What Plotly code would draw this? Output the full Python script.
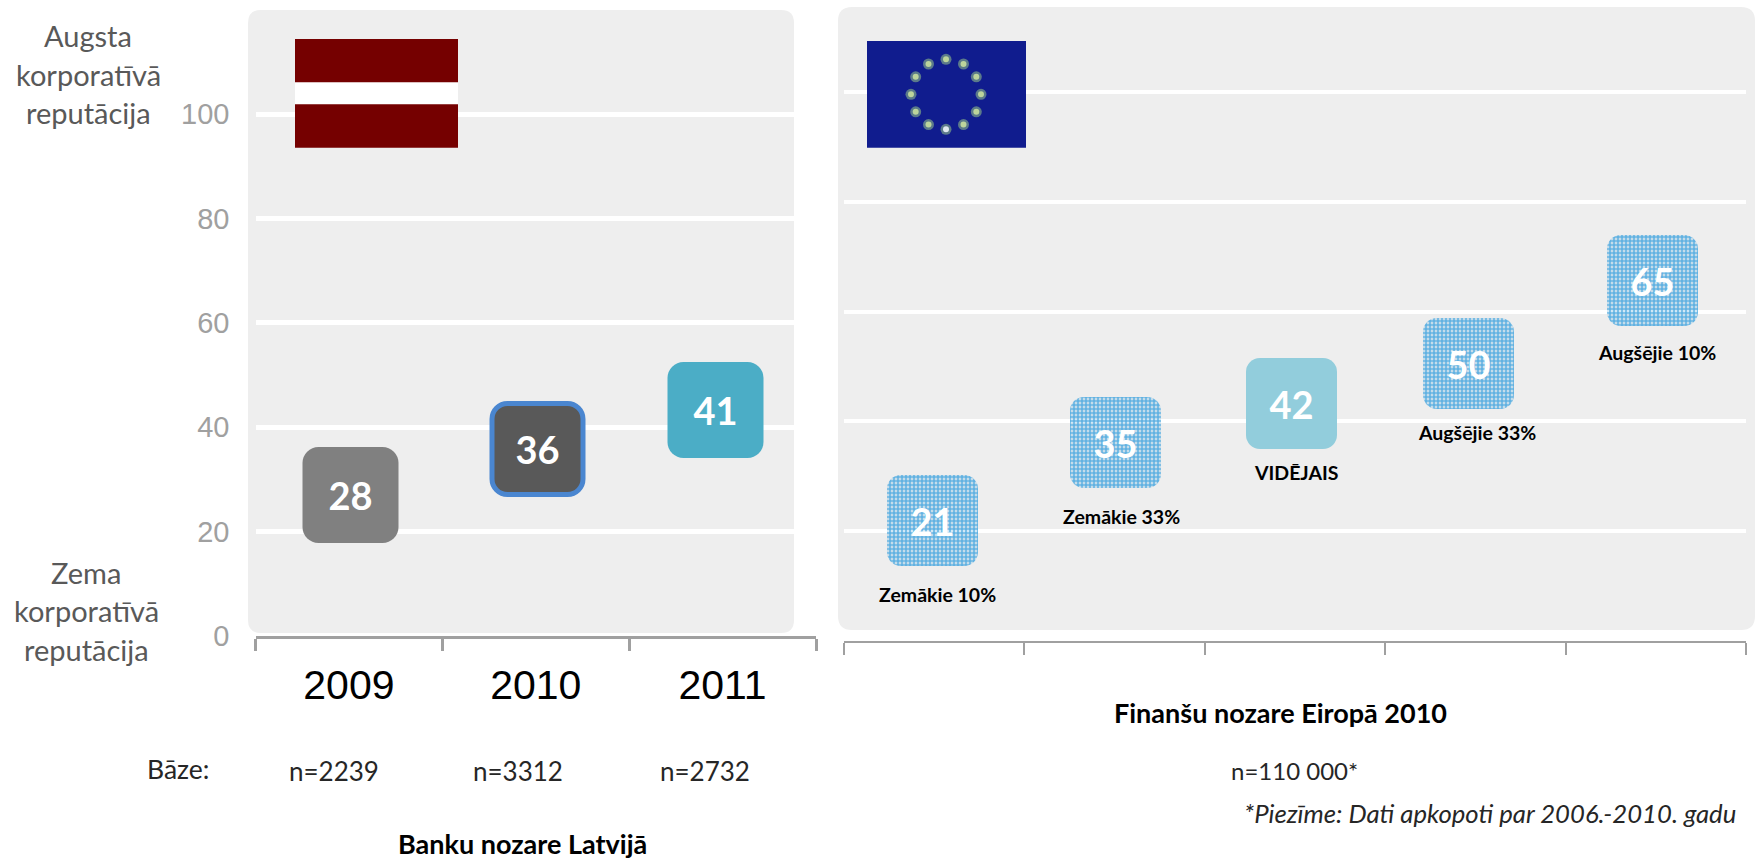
import math
import plotly.graph_objects as go

W, H = 1756, 860

# ---- data ----
latvia_years = ["2009", "2010", "2011"]
latvia_levels = [27.0, 35.8, 43.3]
latvia_labels = ["28", "36", "41"]
latvia_bases = ["n=2239", "n=3312", "n=2732"]

europe_groups = ["Zemākie 10%", "Zemākie 33%", "VIDĒJAIS", "Augšējie 33%", "Augšējie 10%"]
europe_levels = [22.0, 36.2, 43.2, 50.6, 65.7]
europe_labels = ["21", "35", "42", "50", "65"]

y_ticks = [0, 20, 40, 60, 80, 100]

# ---- layout helpers ----
def px(x):
    return x / W

def py(y):
    return 1 - y / H

FONT = "Lato"
GREY_TXT = "#595959"
PANEL = "#eeeeee"
AXIS = "#a0a0a0"
HATCH_BG = "#62b2e2"

# pixel frame of both plot areas
L = dict(x0=255.5, x1=816, y0=636, y1=10, per=5.22, cat=187.0, w=96, h=96)
R = dict(x0=844, x1=1746, y0=641, y1=7, per=5.49, cat=180.4, w=91, h=91)

def bar_trace(cats, levels, labels, frame, colors, axis, line_colors=None, line_w=None,
              nudges=None, pattern=None, size=38, radius=15):
    line_w = line_w or [0] * len(cats)
    hgts = [(frame["h"] - lw) / frame["per"] for lw in line_w]
    wids = [(frame["w"] - lw) / frame["cat"] for lw in line_w]
    nudges = nudges or [0] * len(cats)
    marker = dict(color=colors, cornerradius=radius,
                  line=dict(color=line_colors or colors, width=line_w))
    if pattern:
        marker["pattern"] = pattern
    return go.Bar(
        x=cats, y=hgts, base=[v - h / 2 for v, h in zip(levels, hgts)],
        width=wids, offset=[-w / 2 + n / frame["cat"] for w, n in zip(wids, nudges)],
        marker=marker, text=labels, textposition="inside", insidetextanchor="middle",
        textangle=0, constraintext="none",
        textfont=dict(family=FONT, size=size, color="white", weight="bold"),
        xaxis="x" + axis, yaxis="y" + axis, showlegend=False, hoverinfo="skip",
    )

fig = go.Figure()
fig.add_trace(bar_trace(latvia_years, latvia_levels, latvia_labels, L,
                        ["#808080", "#595959", "#4badc6"], "",
                        line_colors=["#808080", "#4a86d0", "#4badc6"], line_w=[0, 5, 0],
                        nudges=[2, 2, -7], radius=16))
fig.add_trace(bar_trace(europe_groups, europe_levels, europe_labels, R,
                        [HATCH_BG, HATCH_BG, "#92cddc", HATCH_BG, HATCH_BG], "2",
                        nudges=[-1.5, 0.5, -3.5, -7, -3], radius=14,
                        pattern=dict(shape=[".", ".", "", ".", "."], fgcolor="#d8ecf8",
                                     bgcolor=[HATCH_BG, HATCH_BG, "#92cddc", HATCH_BG, HATCH_BG],
                                     size=4, solidity=0.75, fillmode="replace")))

def rounded(x0, y0, x1, y1, r):
    return (f"M{px(x0+r)},{py(y0)} L{px(x1-r)},{py(y0)} Q{px(x1)},{py(y0)} {px(x1)},{py(y0+r)} "
            f"L{px(x1)},{py(y1-r)} Q{px(x1)},{py(y1)} {px(x1-r)},{py(y1)} "
            f"L{px(x0+r)},{py(y1)} Q{px(x0)},{py(y1)} {px(x0)},{py(y1-r)} "
            f"L{px(x0)},{py(y0+r)} Q{px(x0)},{py(y0)} {px(x0+r)},{py(y0)} Z")

shapes = []
for box in [(248, 10, 794, 633, 13), (838, 7, 1755, 630, 14)]:
    shapes.append(dict(type="path", path=rounded(*box), xref="paper", yref="paper",
                       fillcolor=PANEL, line_width=0, layer="below"))

def rect(x0, y0, x1, y1, color):
    shapes.append(dict(type="rect", xref="paper", yref="paper", x0=px(x0), x1=px(x1),
                       y0=py(y0), y1=py(y1), fillcolor=color, line_width=0, layer="above"))

def dot(cx, cy, r, color):
    shapes.append(dict(type="circle", xref="paper", yref="paper", x0=px(cx - r), x1=px(cx + r),
                       y0=py(cy - r), y1=py(cy + r), fillcolor=color, line_width=0, layer="above"))

# Latvian flag
rect(295, 39, 458, 147.7, "#750000")
rect(295, 82.3, 458, 104.3, "#ffffff")
# EU flag
rect(867, 41, 1026, 147.7, "#101c8e")
for k in range(12):
    a = math.radians(30 * k)
    cx, cy = 946 + 35 * math.sin(a), 94.3 - 35 * math.cos(a)
    dot(cx, cy, 5.5, "#5b7a8a")
    dot(cx, cy, 3.0, "#dfe8f0" if k == 6 else "#bcd49c")

def text(x, y, s, size, color="black", bold=False, italic=False, align="center"):
    fig.add_annotation(xref="paper", yref="paper", x=px(x), y=py(y), text=s, showarrow=False,
                       xanchor=align, yanchor="middle", align=align,
                       font=dict(family=FONT, size=size, color=color,
                                 weight="bold" if bold else "normal",
                                 style="italic" if italic else "normal"))

for (x, y, s) in [(88, 36, "Augsta"), (88, 74, "korporatīvā"), (88, 112, "reputācija"),
                  (86, 572, "Zema"), (86, 610, "korporatīvā"), (86, 649, "reputācija")]:
    text(x, y, s, 29, GREY_TXT)

text(178, 769, "Bāze:", 26.5, "#262626")
for x, s in zip([334, 518, 705], latvia_bases):
    text(x, 771, s, 26, "#262626")
text(522, 843, "Banku nozare Latvijā", 27, bold=True)
text(1280, 712, "Finanšu nozare Eiropā 2010", 27, bold=True)
text(1294, 770, "n=110 000*", 24, "#262626")
text(1738, 813, "*Piezīme: Dati apkopoti par 2006.-2010. gadu", 25.7, "#262626", italic=True, align="right")

for x, y, s in zip([937, 1121.5, 1296.5, 1477, 1656.7], [594, 516.7, 472, 433, 352.7], europe_groups):
    text(x, y, s, 19.5, bold=True)

axis_common = dict(showline=True, linecolor=AXIS, ticks="outside", ticklen=12,
                   tickcolor=AXIS, tickson="boundaries", showgrid=False,
                   type="category", zeroline=False, fixedrange=True)
grid_common = dict(showgrid=True, gridcolor="white", zeroline=False, showline=False,
                   ticks="", fixedrange=True)

fig.update_layout(
    width=W, height=H, margin=dict(l=0, r=0, t=0, b=0, autoexpand=False),
    paper_bgcolor="white", plot_bgcolor="rgba(0,0,0,0)", showlegend=False, hovermode=False,
    shapes=shapes, bargap=0,
    xaxis=dict(domain=[px(L["x0"]), px(L["x1"])], anchor="y", range=[-0.5, 2.5],
               tickfont=dict(family="Liberation Sans", size=41, color="black"),
               ticklabelstandoff=11, linewidth=3, tickwidth=3, **axis_common),
    yaxis=dict(domain=[py(L["y0"]), py(L["y1"])], anchor="x",
               range=[0, (L["y0"] - L["y1"]) / L["per"]], tickvals=y_ticks,
               tickfont=dict(family="Liberation Sans", size=29, color=AXIS),
               ticklabelstandoff=25, gridwidth=5, **grid_common),
    xaxis2=dict(domain=[px(R["x0"]), px(R["x1"])], anchor="y2", range=[-0.5, 4.5],
                showticklabels=False, linewidth=2, tickwidth=2, **axis_common),
    yaxis2=dict(domain=[py(R["y0"]), py(R["y1"])], anchor="x2",
                range=[0, (R["y0"] - R["y1"]) / R["per"]], tickvals=y_ticks,
                showticklabels=False, gridwidth=4, **grid_common),
)

fig.write_html("out.html", config=dict(displayModeBar=False),
               post_script="document.body.style.margin='0';document.body.style.overflow='hidden';")
